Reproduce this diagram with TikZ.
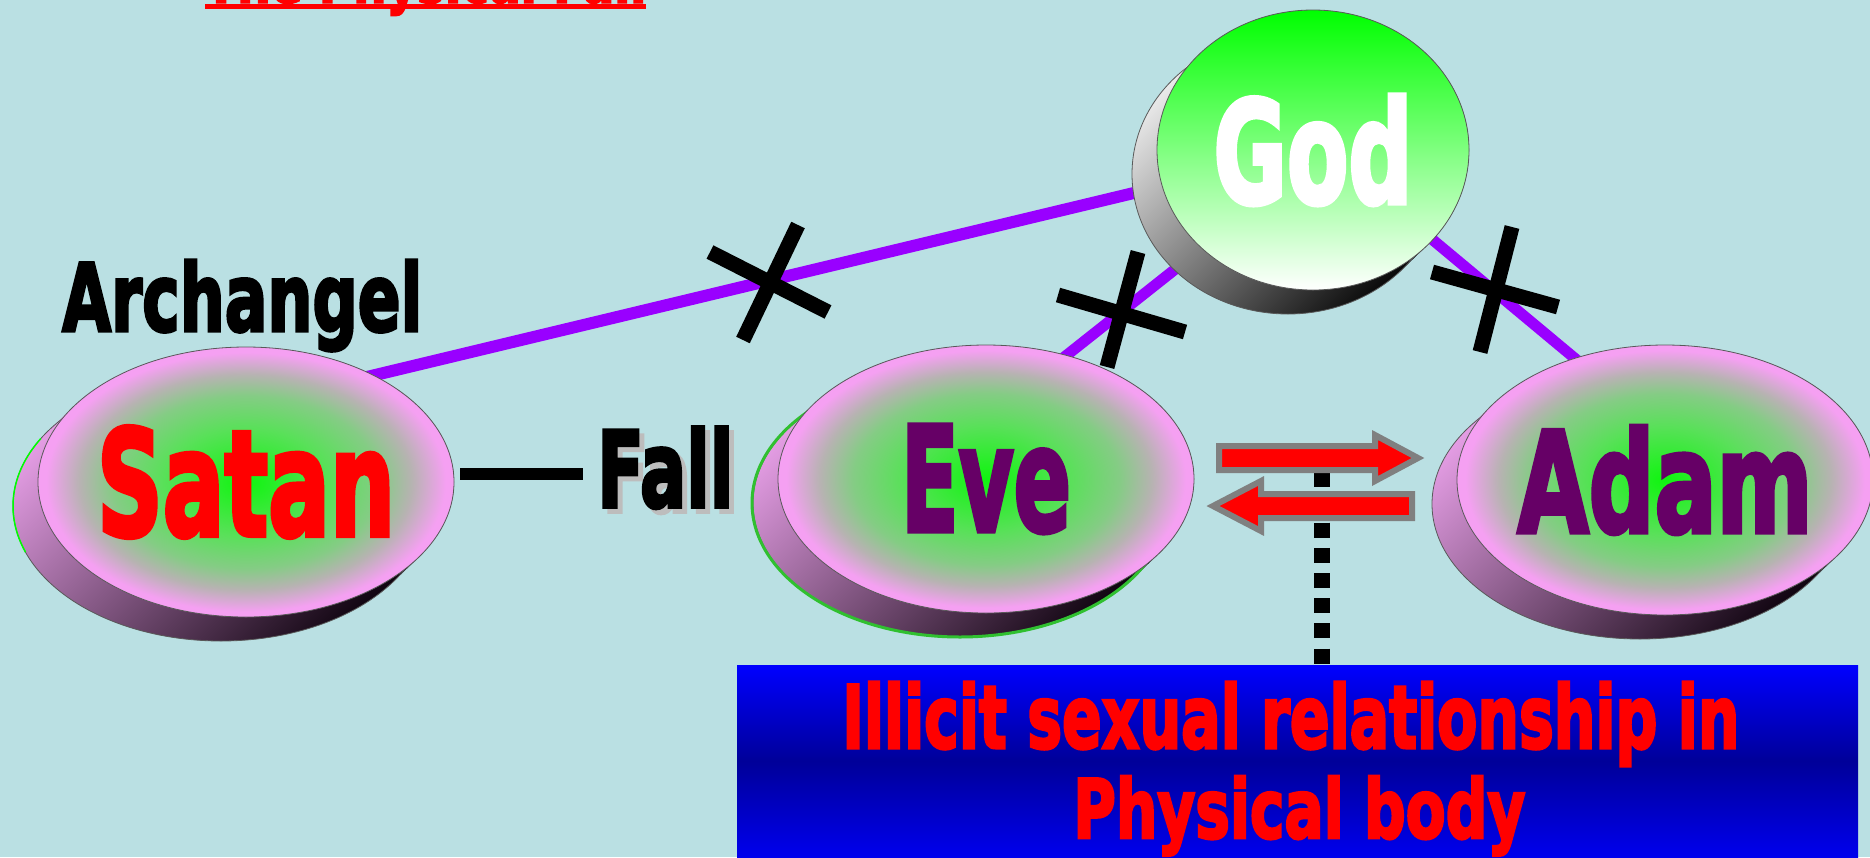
\documentclass[tikz,border=0pt]{standalone}
\usepackage{fontspec}
\usetikzlibrary{shapes.geometric,calc}
\newfontfamily\impactfont{DejaVu Sans}[BoldFeatures={FakeBold=3.5}]
\definecolor{bg}{HTML}{BAE0E3}
\definecolor{purp}{HTML}{9900FF}
\definecolor{plum}{HTML}{660066}
\definecolor{gcen}{rgb}{0.06,0.96,0.06}
\definecolor{gmid}{rgb}{0.35,0.88,0.35}
\definecolor{gmid2}{rgb}{0.52,0.80,0.52}
\definecolor{ggr}{rgb}{0.72,0.70,0.70}
\definecolor{pk}{HTML}{F5A0F2}
\definecolor{sidetop}{HTML}{E8A0E8}
\definecolor{sidebot}{HTML}{0A000A}
\definecolor{godside}{HTML}{F2F2F2}
\definecolor{gtop}{rgb}{0,1,0}
\definecolor{arrgray}{HTML}{808080}
\definecolor{navy}{rgb}{0,0,0.6}
\definecolor{boxbot}{rgb}{0,0,0.93}
\definecolor{shadowgray}{HTML}{BDBDBD}
\definecolor{evegreen}{HTML}{30C030}
\pgfdeclarelayer{back}
\pgfdeclarelayer{lines}
\pgfsetlayers{back,lines,main}
\pgfdeclareradialshading{glow}{\pgfpoint{0bp}{0bp}}{color(0bp)=(gcen); color(10bp)=(gmid); color(16bp)=(gmid2); color(20bp)=(ggr); color(24bp)=(pk); color(50bp)=(pk)}
\newcommand{\imp}[3]{\resizebox{#1pt}{#2pt}{\impactfont\bfseries #3}}
\newcommand{\diskside}[6]{%
  \shade[top color=#5, bottom color=#6, shading angle=45]
    foreach \t in {0,...,25}{(#1-\t,#2+\t*0.96) ellipse [x radius=#3pt, y radius=#4pt]};
  \draw[gray!70!black, line width=0.8pt] (#1-25,#2+24) ellipse [x radius=#3pt, y radius=#4pt];}
\tikzset{
  face/.style={ellipse, inner sep=0pt, draw=gray!70!black, line width=0.8pt},
  pinkface/.style={face, minimum width=416pt, minimum height=270pt, shade, shading=glow},
  label/.style={anchor=base west, inner sep=0pt},
  link/.style={draw=purp, line width=11pt},
  crossbar/.style={draw=black, line width=15pt},
  blockarrow/.style={fill=red, draw=arrgray, line width=6pt, line join=miter},
  dotline/.style={draw=black, line width=16pt, dash pattern=on 15pt off 10.2pt}
}
\begin{document}
\begin{tikzpicture}[x=1pt, y=-1pt]
\useasboundingbox (0,0) rectangle (1870,857);
\begin{pgfonlayer}{back}
  \fill[bg] (0,0) rectangle (1870,857);
\end{pgfonlayer}
\begin{scope}
\clip (0,0) rectangle (1870,857);

% title (mostly cut off by the top edge)
\node[label, text=red] (title) at (205,2.5) {\imp{441}{45}{The Physical Fall}};
\fill[red] (205,4) rectangle (646,9);

% Satan disk
\diskside{246}{482}{208}{135}{sidetop}{sidebot}
\draw[green, line width=1.5pt] ($(221,506)+(150:208pt and 135pt)$) arc[start angle=150, end angle=200, x radius=208pt, y radius=135pt];
\node[pinkface, text=red] (satan) at (246,482) {\makebox[0pt]{\imp{298}{109}{Satan}}};

% Eve disk
\diskside{986}{479}{208}{134}{sidetop}{sidebot}
\draw[evegreen, line width=3pt] (960,503) ellipse [x radius=208pt, y radius=134pt];
\node[pinkface, minimum height=268pt, text=plum] (eve) at (986,479) {\makebox[0pt]{\imp{170}{106}{Eve}}};

% Adam disk
\diskside{1665}{480}{208}{135}{sidetop}{sidebot}
\node[pinkface, text=plum] (adam) at (1665,480) {\makebox[0pt]{\imp{295}{106}{Adam}}};

% God disk
\diskside{1313}{150}{156}{140}{godside}{black}
\node[face, minimum width=312pt, minimum height=280pt, top color=gtop, bottom color=white, text=white] (god) at (1313,150) {\makebox[0pt]{\imp{199}{108}{God}}};

% connectors and crosses underneath the disks
\begin{pgfonlayer}{lines}
  \draw[link, line width=12pt] ($(satan.center)+(0,-76)$) -- (god.center);
  \draw[link] ($(god.center)+(0,10)$) -- ($(eve.center)+(14,-71)$);
  \draw[link] ($(god.center)+(0,-10)$) -- ($(adam.center)+(-45,-84)$);
  \draw[crossbar] (710,252) -- (828,312);
  \draw[crossbar] (798,225) -- (743,340);
  \draw[crossbar] (1058,295) -- (1185,332);
  \draw[crossbar] (1138,252) -- (1107,367);
  \draw[crossbar] (1432,272) -- (1558,307);
  \draw[crossbar] (1512,227) -- (1480,352);
\end{pgfonlayer}

% labels
\node[label] (arch) at (62,331) {\imp{360}{71}{Archangel}};
\node[label, text=shadowgray] (fallshadow) at (602,512) {\imp{136}{80}{Fall}};
\node[label] (fall) at (597,507) {\imp{136}{80}{Fall}};
\coordinate (dashstart) at (460,474);
\draw[line width=12pt, shorten >=14pt] (dashstart) -- (fall.west |- dashstart);

% blue box
\node[anchor=north west, inner sep=0pt, minimum width=1121pt, minimum height=192pt, top color=blue, bottom color=boxbot, middle color=navy] (box) at (737,665) {};
\node[label, text=red] (line1) at (842,748) {\imp{897}{66}{Illicit sexual relationship in}};
\node[label, text=red] (line2) at (1073,838) {\imp{452}{62}{Physical body}};

% dotted connector
\coordinate (dtop) at (1322,447);
\draw[dotline] (dtop) -- (dtop |- box.north);

% block arrows
\draw[blockarrow] (1219,446) -- (1375,446) -- (1375,435) -- (1418,458) -- (1375,481) -- (1375,470) -- (1219,470) -- cycle;
\draw[blockarrow] (1412,494) -- (1261,494) -- (1261,481) -- (1213,506) -- (1261,531) -- (1261,518) -- (1412,518) -- cycle;
\end{scope}
\end{tikzpicture}
\end{document}
